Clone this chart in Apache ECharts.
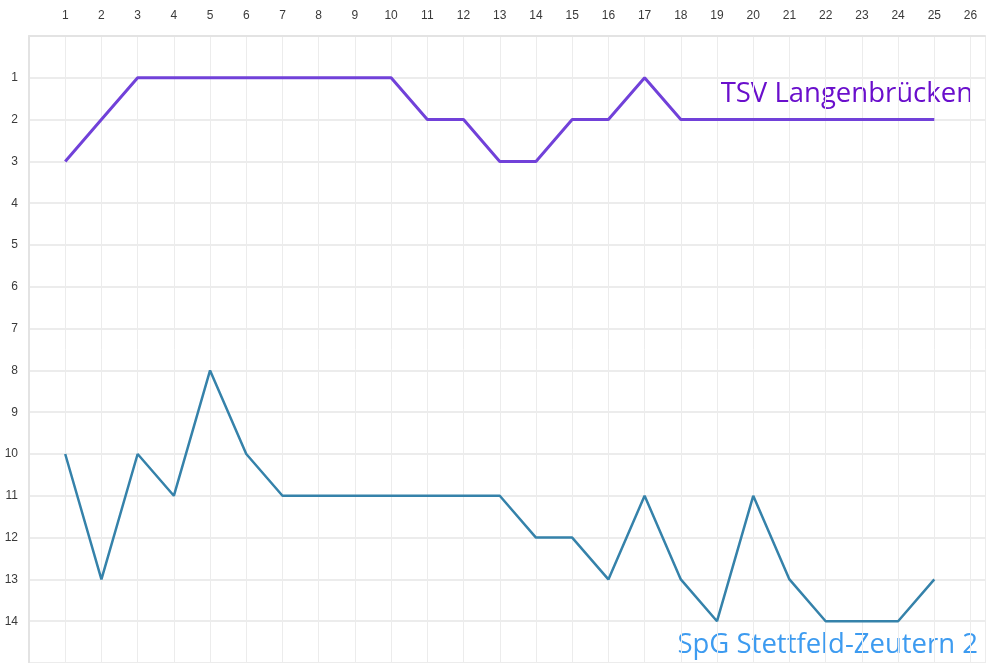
<!DOCTYPE html>
<html>
<head>
<meta charset="utf-8">
<script src="https://cdn.jsdelivr.net/npm/echarts@6/dist/echarts.min.js"></script>
<style>
  html, body { margin: 0; padding: 0; background: #fff; }
  #chart { width: 991px; height: 663px; }
</style>
</head>
<body>
<div id="chart"></div>
<script>
// Spieltage 1..25, Tabellenplatz pro Spieltag
const matchdays = [1, 2, 3, 4, 5, 6, 7, 8, 9, 10, 11, 12, 13, 14, 15, 16, 17, 18, 19, 20, 21, 22, 23, 24, 25];
const tsvPlaces = [3, 2, 1, 1, 1, 1, 1, 1, 1, 1, 2, 2, 3, 3, 2, 2, 1, 2, 2, 2, 2, 2, 2, 2, 2];
const spgPlaces = [10, 13, 10, 11, 8, 10, 11, 11, 11, 11, 11, 11, 11, 12, 12, 13, 11, 13, 14, 11, 13, 14, 14, 14, 13];
const teamNames = ['TSV Langenbrücken', 'SpG Stettfeld-Zeutern 2'];

const toPairs = vals => vals.map((v, i) => [matchdays[i], v]);

const chart = echarts.init(document.getElementById('chart'));
const option = {
  animation: false,
  backgroundColor: '#fff',
  grid: { left: 29, right: 6, top: 36, bottom: -1 },
  xAxis: {
    type: 'value',
    position: 'top',
    min: 0,
    max: 26.4,
    interval: 1,
    axisLine: { show: true, lineStyle: { color: '#e3e3e3', width: 2 } },
    axisTick: { show: false },
    axisLabel: {
      color: '#3a3a3a',
      fontSize: 12,
      fontFamily: 'Liberation Sans',
      margin: 14,
      formatter: v => (v >= 1 && v <= 26 && Number.isInteger(v)) ? String(v) : ''
    },
    splitLine: { show: true, lineStyle: { color: '#ececec', width: 1 } }
  },
  yAxis: {
    type: 'value',
    inverse: true,
    min: 0,
    max: 15,
    interval: 1,
    axisLine: { show: true, lineStyle: { color: '#e3e3e3', width: 2 } },
    axisTick: { show: false },
    axisLabel: {
      color: '#3a3a3a',
      fontSize: 12,
      fontFamily: 'Liberation Sans',
      margin: 11,
      formatter: v => (v >= 1 && v <= 14) ? String(v) : ''
    },
    splitLine: { show: true, lineStyle: { color: '#ececec', width: 2 } }
  },
  series: [
    {
      name: teamNames[0],
      type: 'line',
      data: toPairs(tsvPlaces),
      symbol: 'none',
      lineStyle: { color: '#7141d9', width: 3 }
    },
    {
      name: teamNames[1],
      type: 'line',
      data: toPairs(spgPlaces),
      symbol: 'none',
      lineStyle: { color: '#3582aa', width: 2.5 }
    }
  ],
  graphic: [
    {
      type: 'text',
      right: 18,
      top: 80,
      style: {
        text: teamNames[0],
        fill: '#6a0fcc',
        font: '27.5px "Open Sans", "Noto Sans", sans-serif'
      }
    },
    {
      type: 'text',
      right: 13,
      top: 631,
      style: {
        text: teamNames[1],
        fill: '#3d9bf0',
        font: '27.5px "Open Sans", "Noto Sans", sans-serif'
      }
    }
  ]
};
chart.setOption(option);
</script>
</body>
</html>
